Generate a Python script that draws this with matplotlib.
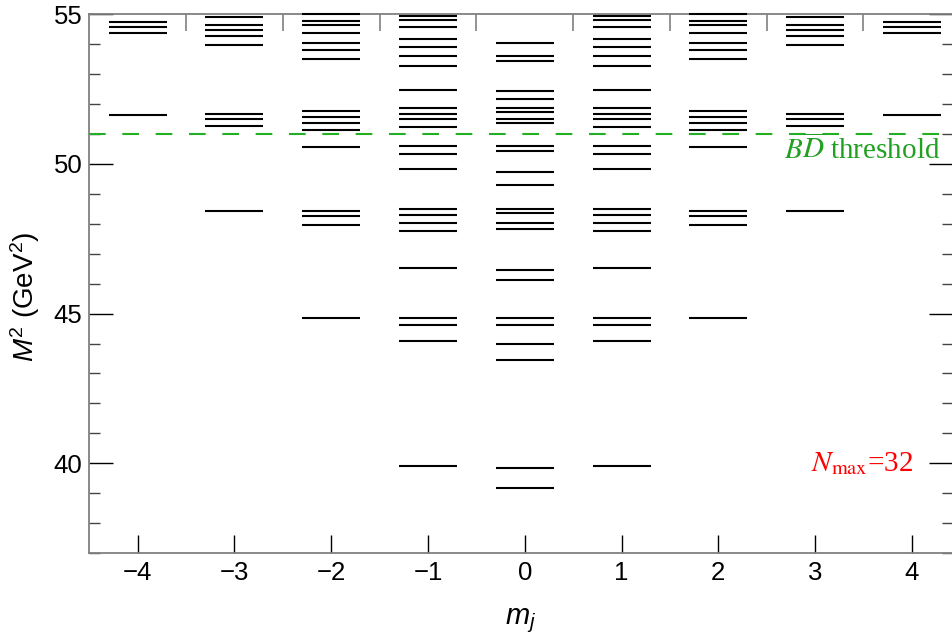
import numpy as np
import matplotlib
matplotlib.use("Agg")
import matplotlib.pyplot as plt

# mass spectrum (GeV^2) for each |m_j|; the spectrum is symmetric in m_j
levels_m0 = [54.03, 53.61, 53.43, 52.44, 52.17, 51.86, 51.75, 51.50, 51.36,
             50.61, 50.42, 49.72, 49.31, 48.50, 48.35, 48.03, 47.83, 46.47,
             46.12, 44.84, 44.63, 43.98, 43.46, 39.85, 39.16]
levels_m1 = [54.95, 54.82, 54.57, 54.16, 53.90, 53.62, 53.28, 52.48, 51.86,
             51.68, 51.50, 51.23, 50.61, 50.34, 49.84, 48.50, 48.30, 48.02,
             47.75, 46.53, 44.85, 44.62, 44.08, 39.91]
levels_m2 = [55.01, 54.79, 54.65, 54.38, 54.03, 53.81, 53.50, 51.78, 51.56,
             51.36, 51.12, 50.58, 48.44, 48.25, 47.96, 44.86]
levels_m3 = [54.90, 54.65, 54.49, 54.27, 53.96, 51.68, 51.50, 51.26, 48.42]
levels_m4 = [54.75, 54.59, 54.39, 51.63]

threshold = 51.0
nmax = 32

spectrum = {0: levels_m0, 1: levels_m1, 2: levels_m2, 3: levels_m3, 4: levels_m4}

plt.rcParams["font.family"] = "Liberation Sans"
plt.rcParams["mathtext.fontset"] = "custom"
plt.rcParams["mathtext.rm"] = "Liberation Sans"
plt.rcParams["mathtext.it"] = "Liberation Sans:italic"
plt.rcParams["axes.unicode_minus"] = True

fig = plt.figure(figsize=(9.53, 6.37), dpi=100)
ax = fig.add_axes([0.0937, 0.1319, 0.9058, 0.8456])

half = 0.3
for mj in range(-4, 5):
    lv = np.array(spectrum[abs(mj)])
    ax.hlines(lv, mj - half, mj + half, colors="black", lw=1.5, clip_on=False, zorder=3)

ax.axhline(threshold, color="#22b022", lw=1.5, linestyle=(0, (8, 8)), zorder=2)

ax.set_xlim(-4.5, 4.42)
ax.set_ylim(37, 55)

ax.set_xticks(range(-4, 5))
ax.set_xticks(np.arange(-3.5, 4.0, 1.0), minor=True)
ax.set_yticks([40, 45, 50, 55])
ax.set_yticks(range(37, 56), minor=True)

ax.tick_params(axis="x", which="major", direction="in", length=13, width=1,
               top=False, bottom=True, labelsize=18.5, pad=6, color="black")
ax.tick_params(axis="x", which="minor", direction="in", length=12, width=1.2,
               top=True, bottom=False, color="#808080")
ax.tick_params(axis="y", which="major", direction="in", length=17, width=1,
               left=True, right=True, labelsize=18.5, pad=5, color="black")
ax.tick_params(axis="y", which="minor", direction="in", length=8, width=1,
               left=True, right=True, color="#444444")

for s in ax.spines.values():
    s.set_color("#808080")
    s.set_linewidth(1.3)

ax.set_xlabel("$m_j$", fontsize=21, labelpad=15)
ax.set_ylabel("$M^2$ (GeV$^2$)", fontsize=20)
ax.yaxis.set_label_coords(-0.055, 0.476)

ax.text(4.29, 50.17, r"$B\overline{D}$ threshold", color="#22a022",
        fontsize=21, family="Liberation Serif", math_fontfamily="stix",
        ha="right", va="baseline")
ax.text(4.01, 39.75, r"$N_{\rm max}$=%d" % nmax, color="red",
        fontsize=21, family="Liberation Serif", math_fontfamily="stix",
        ha="right", va="baseline")

fig.savefig("out.png", dpi=100)
